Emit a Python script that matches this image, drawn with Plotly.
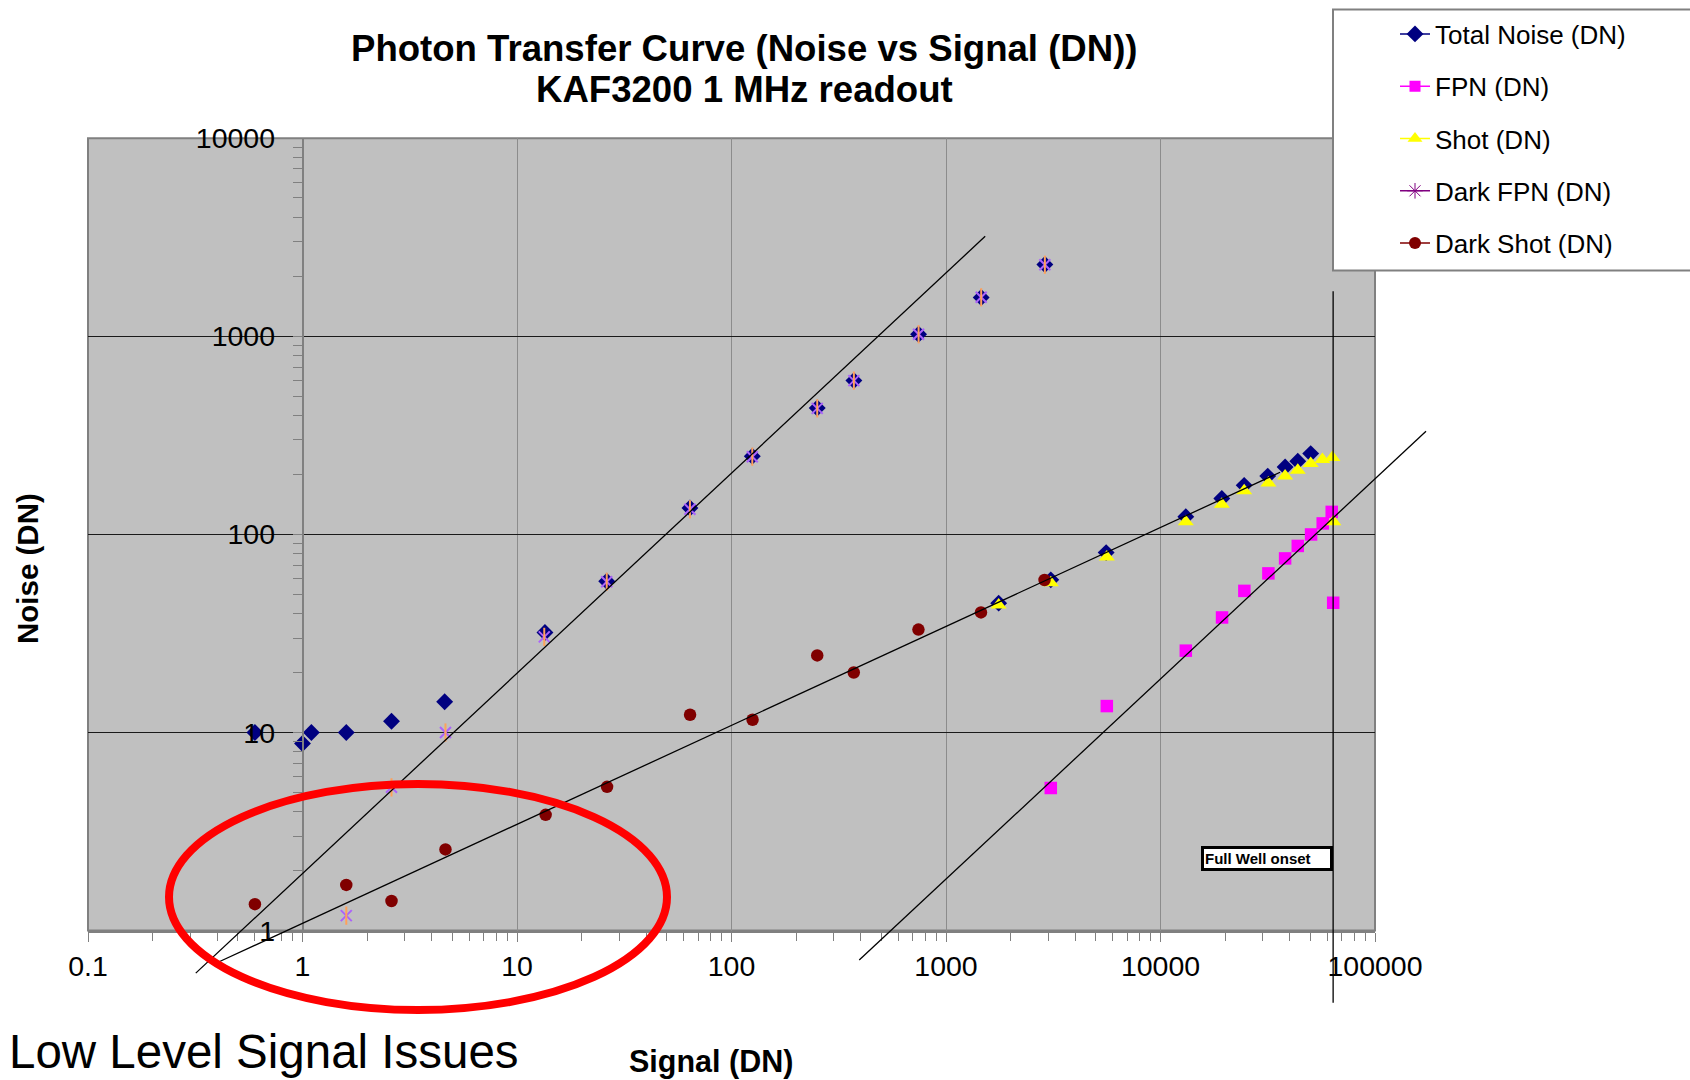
import math
import plotly.graph_objects as go

# ------------------------------------------------------------------ data
TOTAL_NOISE_X = [0.6, 1.0, 1.1, 1.6, 2.6, 4.6, 13.5, 26.2, 64, 125, 251, 372, 745, 1459, 2890,
                 1760, 3080, 5580, 13120, 19310, 24550, 31620, 38100, 43650, 50140]
TOTAL_NOISE_Y = [10.0, 8.8, 10.0, 10.0, 11.4, 14.3, 32, 58, 136, 248, 435, 598, 1025, 1570, 2305,
                 45, 59, 81, 123, 152, 177, 197, 219, 234, 256]

FPN_X = [3080, 5620, 13120, 19360, 24600, 31840, 38100, 43650, 50350, 57050, 62840, 63830]
FPN_Y = [5.25, 13.6, 25.9, 38.1, 51.9, 63.6, 75.7, 87.5, 100, 113.7, 130, 45.2]

SHOT_X = [1760, 3080, 5620, 13120, 19310, 24550, 31840, 38100, 43650, 50140, 56860, 63300, 63970]
SHOT_Y = [44, 57, 77, 116, 142, 166, 182, 197, 211, 228, 239, 244.5, 116]

DARK_FPN_X = [1.6, 2.6, 4.64, 13.4, 26.2, 64, 125, 251, 372, 745, 1459, 2890]
DARK_FPN_Y = [1.19, 5.29, 10.0, 30.4, 57.7, 134, 247, 433, 598, 1025, 1575, 2300]

DARK_SHOT_X = [0.6, 1.6, 2.6, 4.64, 13.6, 26.3, 64.1, 125.4, 251, 371.5, 744, 1456, 2880]
DARK_SHOT_Y = [1.36, 1.70, 1.41, 2.57, 3.84, 5.32, 12.3, 11.6, 24.5, 20.1, 33.1, 40.4, 58.9]

# hand-drawn guide lines (end points in data units)
READ_LINE_X = [0.318, 1523]
READ_LINE_Y = [0.61, 3200]
SHOT_LINE_X = [0.411, 36100]
SHOT_LINE_Y = [0.698, 206]
FPN_LINE_X = [394, 172900]
FPN_LINE_Y = [0.71, 332]
FULL_WELL_X = 63800
FULL_WELL_LINE_Y = [1690, 0.432]
FULL_WELL_LABEL_Y = 2.3

X_TICK_VALS = [0.1, 1, 10, 100, 1000, 10000, 100000]
X_TICK_TEXT = ["0.1", "1", "10", "100", "1000", "10000", "100000"]
Y_TICK_VALS = [1, 10, 100, 1000, 10000]
Y_TICK_TEXT = ["1", "10", "100", "1000", "10000"]

SERIES_NAMES = ["Total Noise (DN)", "FPN (DN)", "Shot (DN)", "Dark FPN (DN)", "Dark Shot (DN)"]

# ------------------------------------------------------------------ layout geometry
W, H = 1690, 1080
PLOT_L, PLOT_R, PLOT_T, PLOT_B = 88, 1375, 138.3, 930.6
X_RANGE = [-1, 5]
Y_RANGE = [0, 4]
FONT = "Liberation Sans, Arial, sans-serif"

xd = [PLOT_L / W, PLOT_R / W]
yd = [1 - PLOT_B / H, 1 - PLOT_T / H]


def extend(rng, dom):
    per = (dom[1] - dom[0]) / (rng[1] - rng[0])
    return [rng[0] - dom[0] / per, rng[1] + (1 - dom[1]) / per]


y_axis_pos = xd[0] + (xd[1] - xd[0]) * (0 - X_RANGE[0]) / (X_RANGE[1] - X_RANGE[0])
minor_x = [m * 10 ** e for e in range(-1, 5) for m in range(2, 10)]
minor_y = [m * 10 ** e for e in range(0, 4) for m in range(2, 10)]

NAVY, MAGENTA, YELLOW, PURPLE, MAROON = "#000080", "#FF00FF", "#FFFF00", "#800080", "#800000"

fig = go.Figure()

# data markers
fig.add_trace(go.Scatter(x=TOTAL_NOISE_X, y=TOTAL_NOISE_Y, mode="markers", showlegend=False,
                         marker=dict(symbol="diamond", size=13, color=NAVY)))
fig.add_trace(go.Scatter(x=FPN_X, y=FPN_Y, mode="markers", showlegend=False,
                         marker=dict(symbol="square", size=12.5, color=MAGENTA)))
fig.add_trace(go.Scatter(x=SHOT_X, y=SHOT_Y, mode="markers", showlegend=False,
                         marker=dict(symbol="triangle-up", size=14, color=YELLOW)))
fig.add_trace(go.Scatter(x=DARK_FPN_X, y=DARK_FPN_Y, mode="markers", showlegend=False,
                         marker=dict(symbol="x-thin-open", size=11, line=dict(color=PURPLE, width=2))))
fig.add_trace(go.Scatter(x=DARK_FPN_X, y=DARK_FPN_Y, mode="markers", showlegend=False,
                         marker=dict(symbol="line-ns-open", size=13, line=dict(color=PURPLE, width=2))))
fig.add_trace(go.Scatter(x=DARK_SHOT_X, y=DARK_SHOT_Y, mode="markers", showlegend=False,
                         marker=dict(symbol="circle", size=12.5, color=MAROON)))

# legend entries
legend_styles = [
    (NAVY, dict(symbol="diamond", size=13, color=NAVY)),
    (MAGENTA, dict(symbol="square", size=11, color=MAGENTA)),
    (YELLOW, dict(symbol="triangle-up", size=13, color=YELLOW)),
    (PURPLE, dict(symbol="asterisk-open", size=13, line=dict(color=PURPLE, width=1))),
    (MAROON, dict(symbol="circle", size=12, color=MAROON)),
]
for i, (name, (col, mk)) in enumerate(zip(SERIES_NAMES, legend_styles)):
    fig.add_trace(go.Scatter(x=[None], y=[None], mode="lines+markers", name=name,
                             legendgroup=f"g{i}", line=dict(color=col, width=1.5), marker=mk))

# guide lines on a full-page overlay scale
for lx, ly in [(READ_LINE_X, READ_LINE_Y), (SHOT_LINE_X, SHOT_LINE_Y), (FPN_LINE_X, FPN_LINE_Y),
               ([FULL_WELL_X, FULL_WELL_X], FULL_WELL_LINE_Y)]:
    fig.add_trace(go.Scatter(x=lx, y=ly, xaxis="x2", yaxis="y2", mode="lines", showlegend=False,
                             line=dict(color="black", width=1.3), hoverinfo="skip"))

fig.update_layout(
    width=W, height=H,
    margin=dict(l=0, r=0, t=0, b=0, autoexpand=False),
    paper_bgcolor="white",
    plot_bgcolor="rgba(0,0,0,0)",
    font=dict(family=FONT, color="black"),
    xaxis=dict(type="log", range=X_RANGE, domain=xd, anchor="y",
               showline=True, linecolor="#808080", linewidth=2,
               ticks="outside", ticklen=9, tickcolor="#808080", tickwidth=1,
               tickmode="array", tickvals=X_TICK_VALS, ticktext=X_TICK_TEXT,
               tickfont=dict(size=28.5, family=FONT), ticklabelstandoff=0,
               showgrid=True, gridcolor="#8c8c8c", gridwidth=1,
               minor=dict(tickmode="array", tickvals=minor_x, ticks="outside", ticklen=8,
                          tickcolor="#808080", showgrid=False)),
    yaxis=dict(type="log", range=Y_RANGE, domain=yd, anchor="free", position=y_axis_pos,
               showline=True, linecolor="#808080", linewidth=1.5,
               ticks="outside", ticklen=9, tickcolor="#808080", tickwidth=1,
               tickmode="array", tickvals=Y_TICK_VALS, ticktext=Y_TICK_TEXT,
               tickfont=dict(size=28.5, family=FONT), ticklabelstandoff=12,
               showgrid=True, gridcolor="#1a1a1a", gridwidth=1,
               minor=dict(tickmode="array", tickvals=minor_y, ticks="outside", ticklen=9,
                          tickcolor="#808080", showgrid=False)),
    xaxis2=dict(type="log", range=extend(X_RANGE, xd), domain=[0, 1], anchor="y2", visible=False),
    yaxis2=dict(type="log", range=extend(Y_RANGE, yd), domain=[0, 1], anchor="x2", visible=False),
    legend=dict(x=1395 / W, y=1 - 10.5 / H, xanchor="left", yanchor="top",
                bgcolor="rgba(0,0,0,0)", borderwidth=0,
                font=dict(size=26, family=FONT), tracegroupgap=15.5, itemwidth=30),
    showlegend=True,
)

shapes = [
    # plot area
    dict(type="rect", xref="x domain", yref="y domain", x0=0, x1=1, y0=0, y1=1,
         fillcolor="#C0C0C0", line=dict(color="#808080", width=2), layer="below"),
    # legend frame
    dict(type="rect", xref="paper", yref="paper", x0=1333 / W, x1=1.02, y0=1 - 270.5 / H, y1=1 - 9.5 / H,
         fillcolor="white", line=dict(color="#808080", width=2), layer="above"),
    # red ellipse
    dict(type="circle", xref="paper", yref="paper", x0=169 / W, x1=667 / W, y0=1 - 1010 / H, y1=1 - 784 / H,
         line=dict(color="#FF0000", width=8), layer="above"),
]
fig.update_layout(shapes=shapes)

annotations = [
    dict(text="<b>Photon Transfer Curve (Noise vs Signal (DN))</b>", xref="paper", yref="paper",
         x=744 / W, y=1 - 48.5 / H, xanchor="center", yanchor="middle", showarrow=False,
         font=dict(size=36.6, family=FONT)),
    dict(text="<b>KAF3200 1 MHz readout</b>", xref="paper", yref="paper",
         x=744 / W, y=1 - 89.5 / H, xanchor="center", yanchor="middle", showarrow=False,
         font=dict(size=36.6, family=FONT)),
    dict(text="<b>Noise (DN)</b>", xref="paper", yref="paper", x=27 / W, y=1 - 569 / H,
         xanchor="center", yanchor="middle", textangle=-90, showarrow=False,
         font=dict(size=29.5, family=FONT)),
    dict(text="<b>Signal (DN)</b>", xref="paper", yref="paper", x=711 / W, y=1 - 1061 / H,
         xanchor="center", yanchor="middle", showarrow=False, font=dict(size=30.5, family=FONT)),
    dict(text="Low Level Signal Issues", xref="paper", yref="paper", x=7 / W, y=1 - 1051 / H,
         xanchor="left", yanchor="middle", showarrow=False, font=dict(size=47.5, family=FONT)),
    # annotation positions on log axes are given in log10 units
    dict(text="<b>Full Well onset</b>", xref="x", yref="y",
         x=math.log10(FULL_WELL_X), y=math.log10(FULL_WELL_LABEL_Y),
         xanchor="right", yanchor="middle", showarrow=False, align="left", width=124,
         bgcolor="white", bordercolor="black", borderwidth=3, borderpad=1,
         font=dict(size=15, family=FONT)),
]
fig.update_layout(annotations=annotations)

fig.write_html("out.html")
